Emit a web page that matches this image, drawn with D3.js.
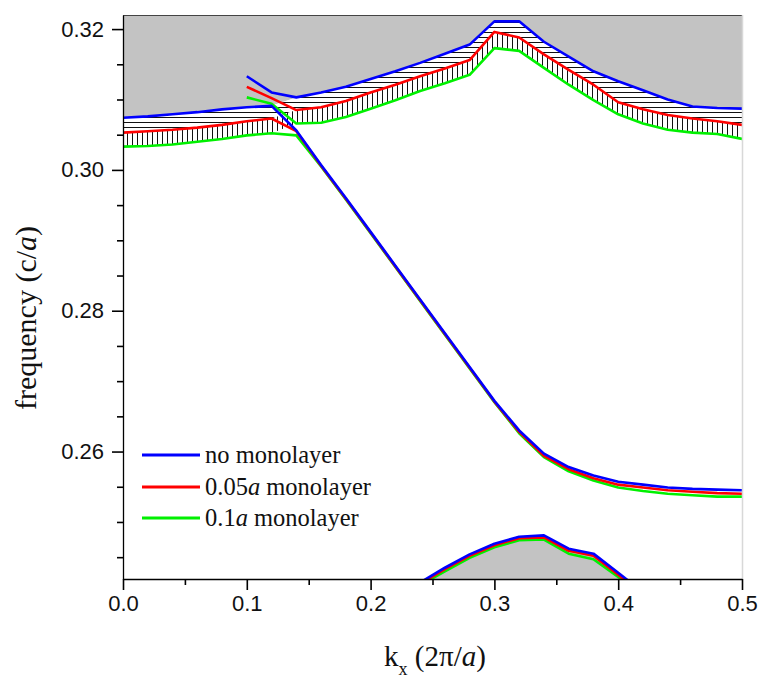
<!DOCTYPE html>
<html>
<head>
<meta charset="utf-8">
<script src="https://cdn.jsdelivr.net/npm/d3@7"></script>
<style>
  html, body { margin: 0; padding: 0; background: #fff; }
  svg { display: block; }
</style>
</head>
<body>
<svg id="chart" width="771" height="687"></svg>
<script>
// ---------- data ----------
const kLower = [0, 0.02, 0.04, 0.06, 0.08, 0.10, 0.12, 0.14, 0.16, 0.18, 0.20, 0.22, 0.24, 0.26, 0.28, 0.30, 0.32, 0.34, 0.36, 0.38, 0.40, 0.42, 0.44, 0.46, 0.48, 0.50];
const blueLower  = [0.3074, 0.3076, 0.3079, 0.3082, 0.3086, 0.3089, 0.3091, 0.3056, 0.3007, 0.2960, 0.2912, 0.2864, 0.2816, 0.2768, 0.2720, 0.2672, 0.2630, 0.2597, 0.2578, 0.2566, 0.2557, 0.2553, 0.2549, 0.2547, 0.2546, 0.2545];
const redLower   = [0.3053, 0.3055, 0.3057, 0.3060, 0.3064, 0.3069, 0.3073, 0.3055, 0.3006, 0.2959, 0.2911, 0.2863, 0.2815, 0.2767, 0.2719, 0.2671, 0.2628, 0.2594, 0.2575, 0.2562, 0.2553, 0.2549, 0.2545, 0.2543, 0.2541, 0.2540];
const greenLower = [0.3033, 0.3034, 0.3036, 0.3040, 0.3044, 0.3049, 0.3052, 0.3049, 0.3005, 0.2958, 0.2910, 0.2862, 0.2814, 0.2766, 0.2718, 0.2670, 0.2626, 0.2592, 0.2572, 0.2559, 0.2549, 0.2544, 0.2540, 0.2538, 0.2536, 0.2536];

const kUpper = [0.10, 0.12, 0.14, 0.16, 0.18, 0.20, 0.22, 0.24, 0.26, 0.28, 0.30, 0.32, 0.34, 0.36, 0.38, 0.40, 0.42, 0.44, 0.46, 0.48, 0.50];
const blueUpper  = [0.3133, 0.3110, 0.3103, 0.3110, 0.3118, 0.3129, 0.3140, 0.3152, 0.3165, 0.3178, 0.3211, 0.3211, 0.3182, 0.3161, 0.3140, 0.3126, 0.3113, 0.3100, 0.3090, 0.3088, 0.3087];
const redUpper   = [0.3118, 0.3102, 0.3085, 0.3089, 0.3098, 0.3110, 0.3121, 0.3133, 0.3144, 0.3156, 0.3196, 0.3188, 0.3164, 0.3142, 0.3121, 0.3096, 0.3086, 0.3078, 0.3073, 0.3069, 0.3064];
const greenUpper = [0.3103, 0.3094, 0.3066, 0.3067, 0.3075, 0.3087, 0.3099, 0.3112, 0.3123, 0.3135, 0.3173, 0.3169, 0.3145, 0.3121, 0.3099, 0.3079, 0.3066, 0.3057, 0.3053, 0.3051, 0.3044];

const kDome = [0.24, 0.26, 0.28, 0.30, 0.32, 0.34, 0.36, 0.38, 0.40, 0.42];
const blueDome  = [0.2414, 0.2435, 0.2454, 0.2469, 0.2479, 0.2481, 0.2462, 0.2455, 0.2428, 0.2400];
const redDome   = [0.2412, 0.2433, 0.2452, 0.2467, 0.2477, 0.2478, 0.2459, 0.2452, 0.2425, 0.2397];
const greenDome = [0.2410, 0.2430, 0.2449, 0.2464, 0.2474, 0.2475, 0.2455, 0.2447, 0.2422, 0.2394];

const seriesNames = ["no monolayer", "0.05a monolayer", "0.1a monolayer"];
const xTickLabels = ["0.0", "0.1", "0.2", "0.3", "0.4", "0.5"];
const yTickLabels = ["0.26", "0.28", "0.30", "0.32"];
const xMinorTicks = [0.05, 0.15, 0.25, 0.35, 0.45];
const yMinorTicks = [0.245, 0.25, 0.255, 0.265, 0.27, 0.275, 0.285, 0.29, 0.295, 0.305, 0.31, 0.315];
const xDomain = [0, 0.5];
const yDomain = [0.2419, 0.3220];

// ---------- layout ----------
const L = 123, R = 742, T = 15, B = 579;
const svg = d3.select("#chart");
const x = d3.scaleLinear().domain(xDomain).range([L, R]);
const y = d3.scaleLinear().domain(yDomain).range([B, T]);

const colors = ["#0000ff", "#ff0000", "#00f000"];

// defs
const defs = svg.append("defs");
defs.append("clipPath").attr("id", "plotClip")
  .append("rect").attr("x", L).attr("y", T).attr("width", R - L).attr("height", B - T);
const ph = defs.append("pattern").attr("id", "hHatch").attr("patternUnits", "userSpaceOnUse")
  .attr("width", 8).attr("height", 5);
ph.append("rect").attr("width", 8).attr("height", 5).attr("fill", "#fff");
ph.append("line").attr("x1", 0).attr("x2", 8).attr("y1", 2.5).attr("y2", 2.5)
  .attr("stroke", "#111").attr("stroke-width", 1);
const pv = defs.append("pattern").attr("id", "vHatch").attr("patternUnits", "userSpaceOnUse")
  .attr("width", 5).attr("height", 8);
pv.append("rect").attr("width", 5).attr("height", 8).attr("fill", "#fff");
pv.append("line").attr("y1", 0).attr("y2", 8).attr("x1", 2.5).attr("x2", 2.5)
  .attr("stroke", "#111").attr("stroke-width", 1);

// gap edge: flat lower band up to 0.12, upper band from 0.14
function edge(lower, upper) {
  const pts = [];
  kLower.forEach((k, i) => { if (k <= 0.12 + 1e-9) pts.push([k, lower[i]]); });
  kUpper.forEach((k, i) => { if (k >= 0.14 - 1e-9) pts.push([k, upper[i]]); });
  return pts;
}
const eBlue = edge(blueLower, blueUpper);
const eRed = edge(redLower, redUpper);
const eGreen = edge(greenLower, greenUpper);

const plot = svg.append("g").attr("clip-path", "url(#plotClip)");

// gray region above blue edge
plot.append("path")
  .datum(eBlue)
  .attr("fill", "#c3c3c3")
  .attr("d", d3.area().x(d => x(d[0])).y0(y(yDomain[1]) - 2).y1(d => y(d[1])));

// hatched bands
const between = (a, b) => a.map((d, i) => [d[0], d[1], b[i][1]]);
plot.append("path")
  .datum(between(eBlue, eRed))
  .attr("fill", "url(#hHatch)")
  .attr("d", d3.area().x(d => x(d[0])).y0(d => y(d[1])).y1(d => y(d[2])));
plot.append("path")
  .datum(between(eRed, eGreen))
  .attr("fill", "url(#vHatch)")
  .attr("d", d3.area().x(d => x(d[0])).y0(d => y(d[1])).y1(d => y(d[2])));

// gray dome at the bottom
plot.append("path")
  .datum(kDome.map((k, i) => [k, blueDome[i]]))
  .attr("fill", "#c3c3c3")
  .attr("d", d3.area().x(d => x(d[0])).y0(B + 5).y1(d => y(d[1])));

// lines
const line = d3.line().x(d => x(d[0])).y(d => y(d[1]));
const sets = [
  [greenLower, greenUpper, greenDome, colors[2]],
  [redLower, redUpper, redDome, colors[1]],
  [blueLower, blueUpper, blueDome, colors[0]]
];
sets.forEach(([lo, up, dome, c]) => {
  [[kLower, lo], [kUpper, up], [kDome, dome]].forEach(([ks, vs]) => {
    plot.append("path")
      .datum(ks.map((k, i) => [k, vs[i]]))
      .attr("fill", "none").attr("stroke", c).attr("stroke-width", 2.6)
      .attr("stroke-linejoin", "round")
      .attr("d", line);
  });
});

// frame
svg.append("line").attr("x1", L).attr("x2", R).attr("y1", T + 0.5).attr("y2", T + 0.5)
  .attr("stroke", "#444").attr("stroke-width", 1.2);
svg.append("line").attr("x1", R + 0.5).attr("x2", R + 0.5).attr("y1", T).attr("y2", B)
  .attr("stroke", "#d8d8d8").attr("stroke-width", 1.5);

// axes
const tickFont = "'Liberation Sans', Arial, sans-serif";
const xMajor = xTickLabels.map(Number);
const yMajor = yTickLabels.map(Number);

const gx = svg.append("g").attr("transform", `translate(0,${B})`)
  .call(d3.axisBottom(x).tickValues(xMajor).tickFormat((d, i) => xTickLabels[i]).tickSize(11).tickPadding(5).tickSizeOuter(0));
const gxm = svg.append("g").attr("transform", `translate(0,${B})`)
  .call(d3.axisBottom(x).tickValues(xMinorTicks).tickFormat("").tickSize(6).tickSizeOuter(0));
const gy = svg.append("g").attr("transform", `translate(${L},0)`)
  .call(d3.axisLeft(y).tickValues(yMajor).tickFormat((d, i) => yTickLabels[i]).tickSize(11).tickPadding(8).tickSizeOuter(0));
const gym = svg.append("g").attr("transform", `translate(${L},0)`)
  .call(d3.axisLeft(y).tickValues(yMinorTicks).tickFormat("").tickSize(6).tickSizeOuter(0));
[gx, gxm, gy, gym].forEach(g => {
  g.selectAll("path.domain").attr("stroke", "#000").attr("stroke-width", 1.3);
  g.selectAll(".tick line").attr("stroke", "#000").attr("stroke-width", 1.6);
  g.selectAll("text").attr("font-family", tickFont).attr("font-size", 22).attr("fill", "#111");
});
gxm.select("path.domain").remove();
gym.select("path.domain").remove();

// axis titles
const serif = "'Liberation Serif', 'Times New Roman', serif";
const xt = svg.append("text").attr("x", 435).attr("y", 666).attr("text-anchor", "middle")
  .attr("font-family", serif).attr("font-size", 29).attr("fill", "#111");
xt.append("tspan").text("k");
xt.append("tspan").attr("font-size", 18).attr("dy", 9).text("x");
xt.append("tspan").attr("dy", -9).text(" (2π/");
xt.append("tspan").attr("font-style", "italic").text("a");
xt.append("tspan").text(")");

const yt = svg.append("text").attr("transform", "translate(36,318) rotate(-90)")
  .attr("text-anchor", "middle")
  .attr("font-family", serif).attr("font-size", 30).attr("fill", "#111");
yt.append("tspan").text("frequency (c/");
yt.append("tspan").attr("font-style", "italic").text("a");
yt.append("tspan").text(")");

// legend
const legY = [455, 487, 518];
seriesNames.forEach((name, i) => {
  svg.append("line").attr("x1", 142).attr("x2", 200).attr("y1", legY[i]).attr("y2", legY[i])
    .attr("stroke", colors[i]).attr("stroke-width", 3);
  const t = svg.append("text").attr("x", 205).attr("y", legY[i] + 8)
    .attr("font-family", serif).attr("font-size", 24.5).attr("fill", "#111");
  const m = name.match(/^([0-9.]+)a( .*)$/);
  if (m) {
    t.append("tspan").text(m[1]);
    t.append("tspan").attr("font-style", "italic").text("a");
    t.append("tspan").text(m[2]);
  } else {
    t.text(name);
  }
});
</script>
</body>
</html>
